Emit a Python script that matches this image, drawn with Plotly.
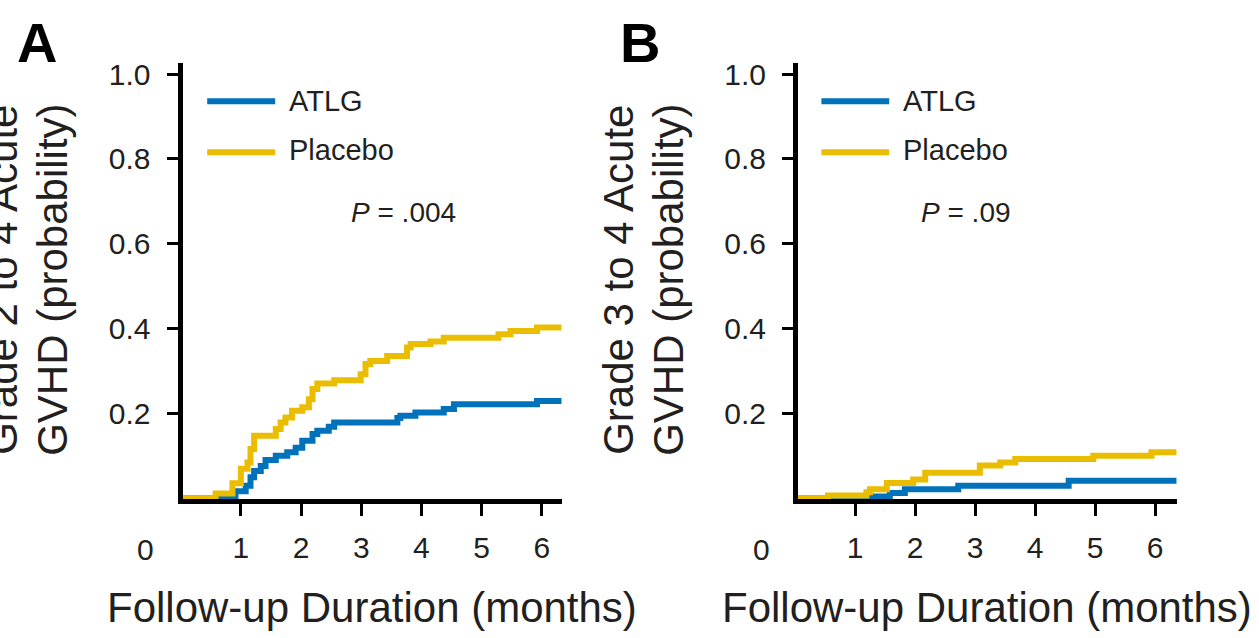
import plotly.graph_objects as go

# ---------------- data ----------------
month_ticks = [1, 2, 3, 4, 5, 6]
month_tick_labels = ["1", "2", "3", "4", "5", "6"]
prob_ticks = [0.2, 0.4, 0.6, 0.8, 1.0]
prob_tick_labels = ["0.2", "0.4", "0.6", "0.8", "1.0"]

# Panel A: grade 2 to 4 acute GVHD
months_atlg_A = [0, 0.91, 1.08, 1.16, 1.22, 1.33, 1.41, 1.58, 1.77, 1.91, 2.02, 2.19, 2.27,
                 2.46, 2.55, 3.60, 3.65, 3.90, 4.37, 4.54, 5.92, 6.33]
atlg_A = [0, 0.017, 0.030, 0.050, 0.065, 0.077, 0.091, 0.101, 0.109, 0.120, 0.136, 0.152, 0.160,
          0.169, 0.179, 0.190, 0.195, 0.203, 0.211, 0.222, 0.230, 0.230]
months_placebo_A = [0, 0.58, 0.86, 1.00, 1.11, 1.16, 1.22, 1.58, 1.66, 1.74, 1.85, 2.02, 2.13,
                    2.19, 2.27, 2.55, 2.99, 3.07, 3.15, 3.43, 3.76, 3.82, 4.15, 4.37, 5.28,
                    5.48, 5.92, 6.33]
placebo_A = [0, 0.012, 0.036, 0.070, 0.085, 0.117, 0.148, 0.164, 0.179, 0.191, 0.207, 0.215,
             0.234, 0.258, 0.271, 0.279, 0.293, 0.317, 0.324, 0.336, 0.356, 0.364, 0.370,
             0.379, 0.387, 0.395, 0.403, 0.403]

# Panel B: grade 3 to 4 acute GVHD
months_atlg_B = [0, 1.28, 1.58, 1.83, 2.72, 4.56, 6.36]
atlg_B = [0, 0.005, 0.013, 0.022, 0.030, 0.042, 0.042]
months_placebo_B = [0, 0.55, 1.19, 1.25, 1.53, 1.97, 2.17, 3.08, 3.42, 3.67, 4.97, 5.94, 6.36]
placebo_B = [0, 0.007, 0.015, 0.022, 0.037, 0.045, 0.061, 0.078, 0.085, 0.093, 0.101, 0.109,
             0.109]

series_names = ["ATLG", "Placebo"]
p_values = ["<i>P</i> = .004", "<i>P</i> = .09"]
panel_letters = ["A", "B"]
y_titles = [("Grade 2 to 4 Acute", "GVHD (probability)"),
            ("Grade 3 to 4 Acute", "GVHD (probability)")]
x_title = "Follow-up Duration (months)"
origin_label = "0"

# ---------------- style ----------------
W, H = 1259, 638
BLUE = "#0072BC"
GOLD = "#EABD00"
TEXT = "#231F20"
FONT = "Liberation Sans, Arial, sans-serif"
LW = 6


def px_x(p):
    return p / W


def px_y(p):
    return 1 - p / H


fig = go.Figure()

panels = [
    ("x", "y", months_atlg_A, atlg_A, months_placebo_A, placebo_A),
    ("x2", "y2", months_atlg_B, atlg_B, months_placebo_B, placebo_B),
]
for xa, ya, ma, va, mp, vp in panels:
    fig.add_trace(go.Scatter(x=ma, y=va, mode="lines", name=series_names[0],
                             line=dict(color=BLUE, width=LW, shape="hv"),
                             xaxis=xa, yaxis=ya, showlegend=False))
    fig.add_trace(go.Scatter(x=mp, y=vp, mode="lines", name=series_names[1],
                             line=dict(color=GOLD, width=LW, shape="hv"),
                             xaxis=xa, yaxis=ya, showlegend=False))

common_x = dict(tickvals=month_ticks, ticktext=month_tick_labels, showline=True,
                linewidth=5, linecolor="black", ticks="outside", ticklen=12, tickwidth=3,
                tickcolor="black", showgrid=False, zeroline=False,
                tickfont=dict(size=30, color=TEXT, family=FONT), ticklabelstandoff=6)
common_y = dict(tickvals=prob_ticks, ticktext=prob_tick_labels, showline=True,
                linewidth=5, linecolor="black", ticks="outside", ticklen=11, tickwidth=3,
                tickcolor="black", showgrid=False, zeroline=False,
                tickfont=dict(size=30, color=TEXT, family=FONT), ticklabelstandoff=10,
                range=[-0.0012, 1.027])

y_dom = [px_y(498), px_y(58)]
fig.update_layout(
    width=W, height=H,
    margin=dict(l=0, r=0, t=0, b=0),
    paper_bgcolor="white", plot_bgcolor="white",
    font=dict(family=FONT, color=TEXT),
    xaxis=dict(domain=[px_x(182.5), px_x(561.7)], range=[0.03, 6.33], anchor="y", **common_x),
    yaxis=dict(domain=y_dom, anchor="x", **common_y),
    xaxis2=dict(domain=[px_x(798), px_x(1176.7)], range=[0.05, 6.36], anchor="y2", **common_x),
    yaxis2=dict(domain=y_dom, anchor="x2", **common_y),
)

annotations = []
shapes = []
panel_cfg = [
    # xref, yref, letter x px, ytitle line1 x px, line2 x px, "0" shift, P x (data)
    ("x", "y", 37, 3, 53, -37.5, 3.70),
    ("x2", "y2", 640, 619, 669, -37, 2.85),
]
for i, (xr, yr, lx, t1x, t2x, zshift, px_) in enumerate(panel_cfg):
    # panel letter
    annotations.append(dict(text="<b>%s</b>" % panel_letters[i], xref="paper", yref="paper",
                            x=px_x(lx), y=px_y(38), xanchor="center", yanchor="middle",
                            showarrow=False, font=dict(size=56, color="black", family=FONT)))
    # y-axis title (two lines)
    for line_text, lxp in zip(y_titles[i], (t1x, t2x)):
        annotations.append(dict(text=line_text, xref="paper", yref="paper",
                                x=px_x(lxp), y=px_y(277), xanchor="center", yanchor="middle",
                                textangle=-90, showarrow=False,
                                font=dict(size=42, color=TEXT, family=FONT)))
    # x-axis title
    annotations.append(dict(text=x_title, xref=xr + " domain", yref="paper", x=0.5,
                            y=px_y(607), xanchor="center", yanchor="middle", showarrow=False,
                            font=dict(size=42, color=TEXT, family=FONT)))
    # origin label "0"
    annotations.append(dict(text=origin_label, xref=xr + " domain", yref="paper", x=0,
                            xshift=zshift, y=px_y(549), xanchor="center", yanchor="middle",
                            showarrow=False, font=dict(size=30, color=TEXT, family=FONT)))
    # P value
    annotations.append(dict(text=p_values[i], xref=xr, yref=yr, x=px_, y=0.674,
                            xanchor="center", yanchor="middle", showarrow=False,
                            font=dict(size=28, color=TEXT, family=FONT)))
    # legend
    for name, col, ly_line, ly_text in ((series_names[0], BLUE, 0.936, 0.937),
                                        (series_names[1], GOLD, 0.816, 0.821)):
        shapes.append(dict(type="line", xref=xr, yref=yr, x0=0.44, x1=1.57,
                           y0=ly_line, y1=ly_line, line=dict(color=col, width=6)))
        annotations.append(dict(text=name, xref=xr, yref=yr, x=1.77, y=ly_text,
                                xanchor="left", yanchor="middle", showarrow=False,
                                font=dict(size=29, color=TEXT, family=FONT)))

fig.update_layout(annotations=annotations, shapes=shapes)

fig.write_html("out.html")
